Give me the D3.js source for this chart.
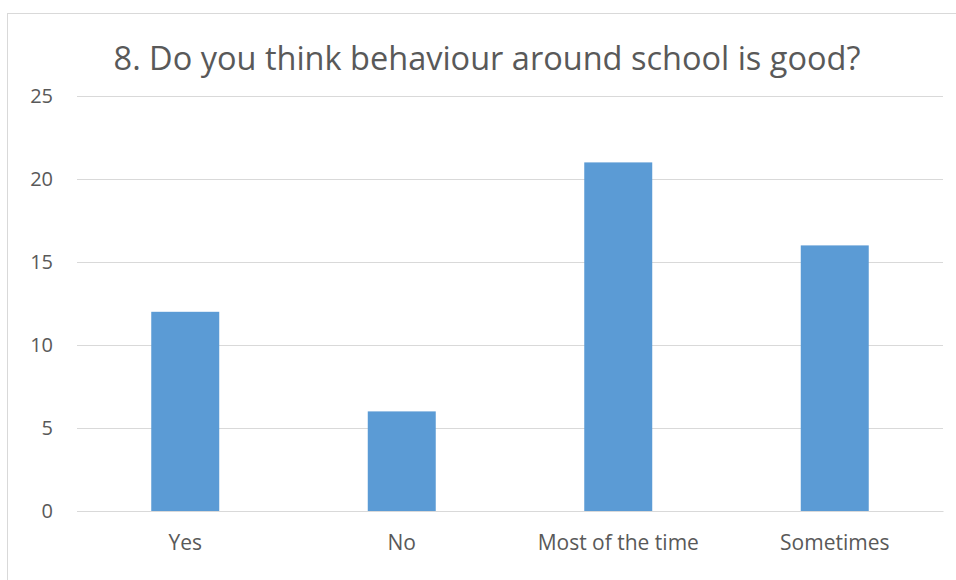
<!DOCTYPE html>
<html><head><meta charset="utf-8">
<script src="https://cdn.jsdelivr.net/npm/d3@7"></script>
<style>body{margin:0;background:#fff;}svg{display:block;}</style>
</head><body>
<svg id="c" width="956" height="580"></svg>
<script>
const categories = ["Yes", "No", "Most of the time", "Sometimes"];
const values = [12, 6, 21, 16];
const yTicks = [0, 5, 10, 15, 20, 25];
const title = "8. Do you think behaviour around school is good?";

(function () {
const svg = d3.select("#c");
const font = "'Open Sans', sans-serif";
const mLeft = 77, mRight = 943, mTop = 96, mBottom = 511;

svg.append("rect").attr("x", 7.5).attr("y", 13.5).attr("width", 960).attr("height", 580)
  .attr("fill", "#fff").attr("stroke", "#D9D9D9").attr("stroke-width", 1);

const x = d3.scaleBand().domain(categories).range([mLeft, mRight]).padding(0);
const y = d3.scaleLinear().domain([0, 25]).range([mBottom, mTop]);

const yAxis = svg.append("g").attr("transform", `translate(${mLeft},0)`)
  .call(d3.axisLeft(y).tickValues(yTicks).tickSize(-(mRight - mLeft)).tickFormat(d3.format("d")).tickPadding(24));
yAxis.select(".domain").remove();
yAxis.selectAll(".tick line").attr("stroke", "#D9D9D9").attr("stroke-width", 1);
yAxis.selectAll(".tick text").attr("fill", "#595959").attr("font-size", 20).attr("font-family", font);

const bw = x.bandwidth() * 0.314;
svg.append("g").selectAll("rect").data(values).join("rect")
  .attr("x", (d, i) => x(categories[i]) + x.bandwidth() / 2 - bw / 2)
  .attr("width", bw)
  .attr("y", d => y(d))
  .attr("height", d => y(0) - y(d))
  .attr("fill", "#5B9BD5");

const xAxis = svg.append("g").attr("transform", `translate(0,${mBottom})`)
  .call(d3.axisBottom(x).tickSize(0).tickPadding(0));
xAxis.select(".domain").attr("stroke", "#D9D9D9");
xAxis.selectAll(".tick text").attr("fill", "#595959").attr("font-size", 21).attr("font-family", font)
  .attr("dy", null).attr("y", 39);

svg.append("text").attr("x", 487).attr("y", 70).attr("text-anchor", "middle")
  .attr("fill", "#595959").attr("font-size", 32.5).attr("font-family", font).text(title);
})();
</script>
</body></html>
